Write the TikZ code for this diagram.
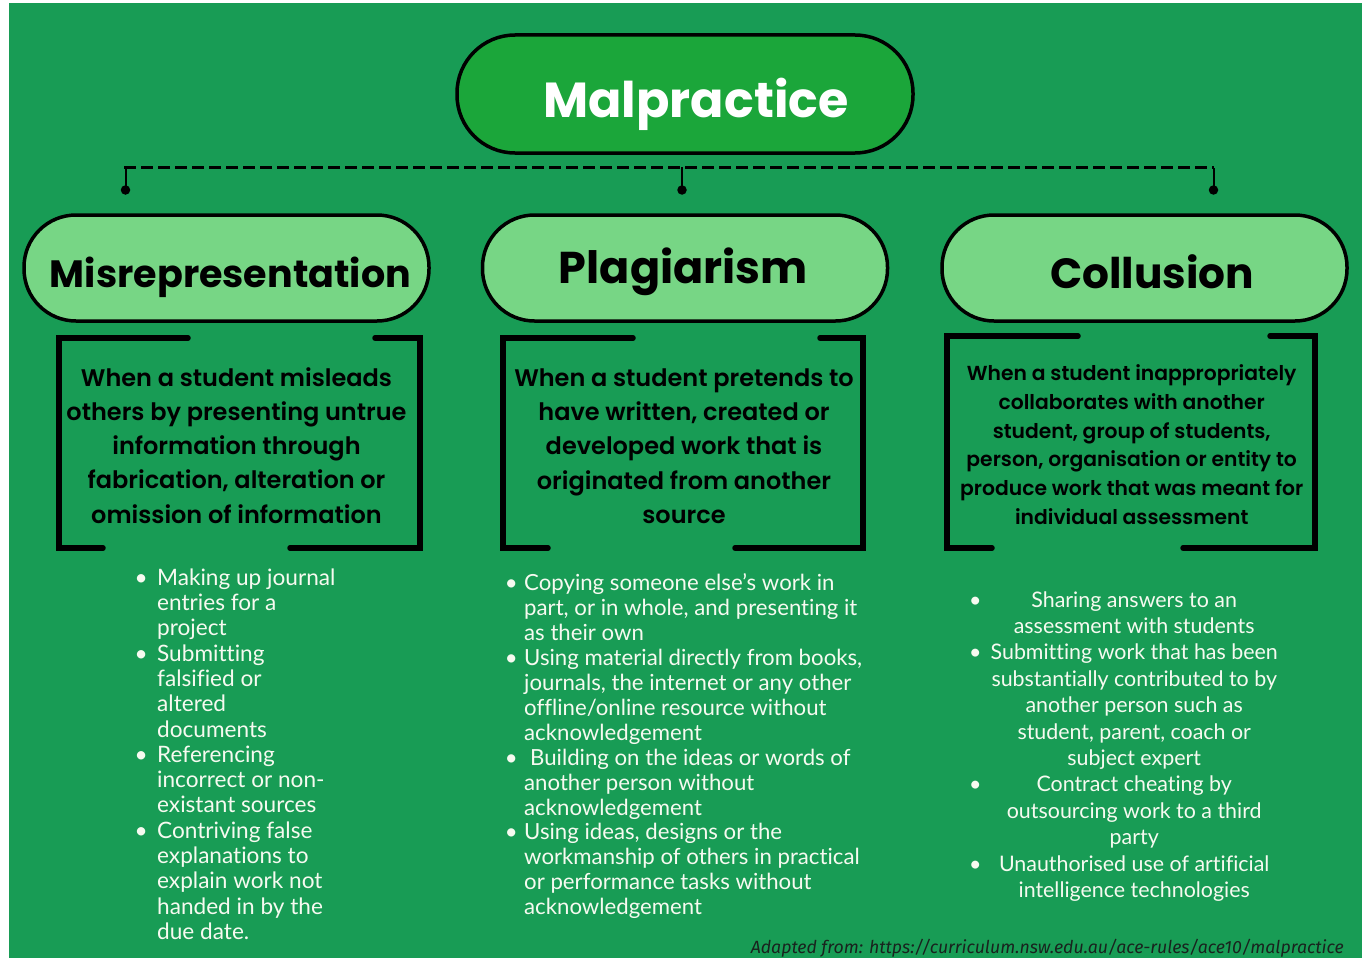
\documentclass[tikz,border=0pt]{standalone}
\usepackage{fontspec}
\usepackage{array}
\usepackage{graphicx}
\setmainfont{Lato}[Ligatures=NoCommon]
\newfontfamily\popfont{Poppins}
\IfFontExistsTF{Poppins SemiBold}
  {\newfontfamily\popsemi{Poppins SemiBold}}
  {\newfontfamily\popsemi{Poppins}[UprightFont=*Bold]}
\newfontfamily\notefont{Fira Sans}

\definecolor{pagegreen}{RGB}{24,156,85}
\definecolor{titlegreen}{RGB}{27,166,58}
\definecolor{pillgreen}{RGB}{119,214,133}
\definecolor{listwhite}{RGB}{246,250,240}
\definecolor{notegrey}{RGB}{25,35,30}

% corner-bracket frame: left, top, right, bottom, top-left end, top-right start, bottom-left end, bottom-right start
\newcommand\cornerframe[8]{%
  \draw[frameline] (#5,#2) -- (#1,#2) -- (#1,#4) -- (#7,#4);
  \draw[frameline] (#6,#2) -- (#3,#2) -- (#3,#4) -- (#8,#4);
}

\begin{document}
\begin{tikzpicture}[x=1pt,y=-1pt,
  pill/.style={draw=black, line width=3.5pt, fill=pillgreen, rounded corners=52pt,
    minimum width=405pt, minimum height=106pt, inner sep=0pt},
  titlepill/.style={draw=black, line width=3.5pt, fill=titlegreen, rounded corners=58pt,
    minimum width=456pt, minimum height=118pt, inner sep=0pt},
  heading/.style={font=\popfont\bfseries, text=black, inner sep=0pt, anchor=base},
  desc/.style={font=\popsemi, text=black, inner sep=0pt, anchor=north},
  listtext/.style={font=\rmfamily, text=listwhite, inner sep=0pt, anchor=north west},
  frameline/.style={line width=5.5pt, line cap=round, line join=miter, draw=black},
  barline/.style={line width=3pt, dash pattern=on 12pt off 5pt, draw=black},
  dropline/.style={line width=2pt, draw=black},
  endpoint/.style={circle, fill=black, inner sep=0pt, minimum size=9.5pt}
]
\useasboundingbox (0,0) rectangle (1365,958);
\fill[white] (0,0) rectangle (1365,958);
\fill[pagegreen] (9,3) rectangle (1362,958);

% title
\node[titlepill] (title) at (685,94) {};
\node[heading, text=white] (titletext) at (696,117) {\resizebox{305pt}{!}{Malpractice}};

% branching bar
\coordinate (barL) at (124,167);
\coordinate (barM) at (682,167);
\coordinate (barR) at (1214,167);
\draw[barline] (barL) -- (barR);
\node[endpoint] (dotL) at (125.5,190) {};
\node[endpoint] (dotM) at (682,190) {};
\node[endpoint] (dotR) at (1213.5,190) {};
\draw[dropline] (barL |- 0,168) ++(1.5,0) -- (dotL.center);
\draw[dropline] (barM) -- (dotM.center);
\draw[dropline] (barR |- 0,168) ++(-0.5,0) -- (dotR.center);

% category pills
\node[pill] (mis) at (226.5,268) {};
\node[pill] (pla) at (685,268) {};
\node[pill] (col) at (1144.5,268) {};
\node[heading] (mistext) at (230.5,287) {\resizebox{361pt}{!}{Misrepresentation}};
\node[heading] (platext) at (683.5,283) {\resizebox{249pt}{!}{Plagiarism}};
\node[heading] (coltext) at (1152,288) {\resizebox{204pt}{!}{Collusion}};

% bracket frames
\cornerframe{59}{338}{420}{548}{188}{375}{103}{290}
\cornerframe{503}{338}{863}{548}{633}{820}{548}{735}
\cornerframe{947}{336}{1315}{548}{1078}{1270}{992}{1183}

% definitions
\node[desc] (misdesc) at (236.5,362) {\fontsize{24}{34.25}\selectfont
  \begin{tabular}{@{}c@{}}
  When a student misleads\\
  others by presenting untrue\\
  information through\\
  fabrication, alteration or\\
  omission of information
  \end{tabular}};
\node[desc] (pladesc) at (684,362.7) {\fontsize{24}{34.1}\selectfont
  \begin{tabular}{@{}c@{}}
  When a student pretends to\\
  have written, created or\\
  developed work that is\\
  originated from another\\
  source
  \end{tabular}};
\node[desc] (coldesc) at (1131.7,360.6) {\fontsize{20.3}{28.66}\selectfont
  \begin{tabular}{@{}c@{}}
  When a student inappropriately\\
  collaborates with another\\
  student, group of students,\\
  person, organisation or entity to\\
  produce work that was meant for\\
  individual assessment
  \end{tabular}};

% example lists
\node[listtext] (mislist) at (133,567.3) {\fontsize{22.6}{25.3}\selectfont
  \begin{tabular}{@{}p{24pt}@{}l@{}}
  \makebox[16pt]{•} & Making up journal\\
   & entries for a\\
   & project\\
  \makebox[16pt]{•} & Submitting\\
   & falsified or\\
   & altered\\
   & documents\\
  \makebox[16pt]{•} & Referencing\\
   & incorrect or non-\\
   & existant sources\\
  \makebox[16pt]{•} & Contriving false\\
   & explanations to\\
   & explain work not\\
   & handed in by the\\
   & due date.
  \end{tabular}};
\node[listtext] (plalist) at (503,573.3) {\fontsize{22.2}{24.9}\selectfont
  \begin{tabular}{@{}p{21pt}@{}l@{}}
  \makebox[16pt]{•} & Copying someone else’s work in\\
   & part, or in whole, and presenting it\\
   & as their own\\
  \makebox[16pt]{•} & Using material directly from books,\\
   & journals, the internet or any other\\
   & offline/online resource without\\
   & acknowledgement\\
  \makebox[16pt]{•} & \hspace{6pt}Building on the ideas or words of\\
   & another person without\\
   & acknowledgement\\
  \makebox[16pt]{•} & Using ideas, designs or the\\
   & workmanship of others in practical\\
   & or performance tasks without\\
   & acknowledgement
  \end{tabular}};
\node[listtext] (collist) at (967,588.5) {\fontsize{21.4}{26.4}\selectfont
  \begin{tabular}{@{}p{16pt}@{}>{\centering\arraybackslash}p{302pt}@{}}
  \makebox[16pt]{•} & Sharing answers to an\\
   & assessment with students\\
  \makebox[16pt]{•} & Submitting work that has been\\
   & substantially contributed to by\\
   & another person such as\\
   & student, parent, coach or\\
   & subject expert\\
  \makebox[16pt]{•} & Contract cheating by\\
   & outsourcing work to a third\\
   & party\\
  \makebox[16pt]{•} & Unauthorised use of artificial\\
   & intelligence technologies
  \end{tabular}};

% source note
\node[anchor=base east, inner sep=0pt, font=\notefont\itshape, text=notegrey] (source) at (1344,953)
  {\resizebox{593pt}{!}{Adapted from: https://curriculum.nsw.edu.au/ace-rules/ace10/malpractice}};
\end{tikzpicture}
\end{document}
